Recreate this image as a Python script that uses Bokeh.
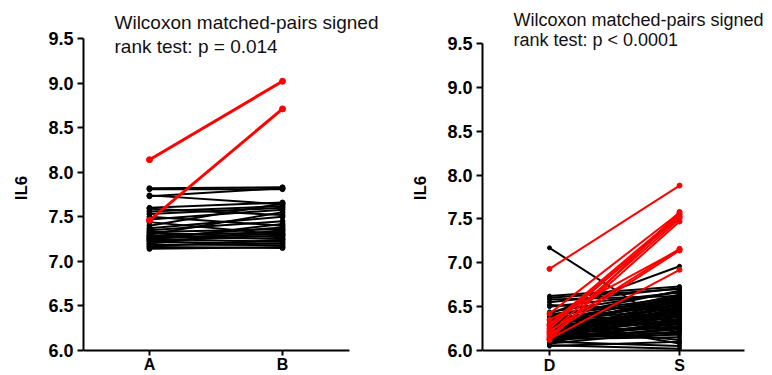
from bokeh.plotting import figure
from bokeh.layouts import row
from bokeh.models import FixedTicker, Label, Range1d
from bokeh.embed import file_html
from bokeh.resources import INLINE

# ---------------- data ----------------
left_categories = ["A", "B"]
right_categories = ["D", "S"]
y_ticks = [6.0, 6.5, 7.0, 7.5, 8.0, 8.5, 9.0, 9.5]
y_tick_labels = ["6.0", "6.5", "7.0", "7.5", "8.0", "8.5", "9.0", "9.5"]

left_title = ["Wilcoxon matched-pairs signed", "rank test: p = 0.014"]
right_title = ["Wilcoxon matched-pairs signed", "rank test: p < 0.0001"]
y_label = "IL6"

left_black_A = [7.82, 7.81, 7.74, 7.73, 7.60, 7.59, 7.56, 7.53, 7.50, 7.47,
                7.44, 7.40, 7.37, 7.35, 7.33, 7.32, 7.30, 7.29, 7.28, 7.27,
                7.26, 7.25, 7.24, 7.23, 7.22, 7.20, 7.19, 7.17, 7.16, 7.14]
left_black_B = [7.83, 7.81, 7.64, 7.82, 7.66, 7.52, 7.62, 7.60, 7.40, 7.58,
                7.30, 7.65, 7.50, 7.45, 7.36, 7.27, 7.55, 7.33, 7.25, 7.38,
                7.31, 7.22, 7.42, 7.29, 7.20, 7.35, 7.18, 7.24, 7.15, 7.16]
left_red_A = [8.14, 7.46]
left_red_B = [9.02, 8.71]

right_black_D = [7.17, 6.62, 6.60, 6.58, 6.55, 6.52, 6.50, 6.42, 6.40, 6.39,
                 6.38, 6.36, 6.35, 6.34, 6.33, 6.32, 6.31, 6.30, 6.29, 6.28,
                 6.27, 6.26, 6.25, 6.24, 6.23, 6.22, 6.21, 6.20, 6.19, 6.18,
                 6.17, 6.16, 6.15, 6.14, 6.13, 6.12, 6.11, 6.10, 6.08, 6.06,
                 6.05, 6.27, 6.33, 6.37, 6.31, 6.29, 6.26, 6.24, 6.21, 6.19,
                 6.17, 6.15, 6.13, 6.11, 6.09, 6.44, 6.41, 6.23, 6.18, 6.14]
right_black_S = [6.22, 6.73, 6.70, 6.62, 6.71, 6.45, 6.66, 6.96, 6.58, 6.35,
                 6.68, 6.52, 6.60, 6.48, 6.40, 6.64, 6.55, 6.30, 6.57, 6.44,
                 6.62, 6.38, 6.50, 6.25, 6.46, 6.56, 6.33, 6.42, 6.20, 6.48,
                 6.36, 6.53, 6.28, 6.40, 6.15, 6.45, 6.32, 6.05, 6.22, 6.02,
                 6.10, 6.12, 6.08, 6.51, 6.43, 6.59, 6.34, 6.47, 6.27, 6.54,
                 6.39, 6.18, 6.49, 6.26, 6.35, 6.67, 6.61, 6.41, 6.30, 6.24]
right_red_D = [6.93, 6.42, 6.30, 6.25, 6.20, 6.15, 6.12, 6.35, 6.22, 6.18, 6.13, 6.28]
right_red_S = [7.88, 7.57, 7.55, 7.53, 7.50, 7.47, 7.58, 7.15, 7.16, 7.14, 6.92, 7.52]

FONT = "Liberation Sans"


def make_panel(cats, black_a, black_b, red_a, red_b, title_lines, width,
               border_left, x_range, y_range, x_bounds, title_x, title_y,
               title_size, lw_black, lw_red, msize):
    p = figure(width=width, height=375, output_backend="svg", toolbar_location=None,
               x_range=Range1d(*x_range), y_range=Range1d(*y_range))
    p.min_border_left = border_left
    p.min_border_right = 0
    p.min_border_top = 0
    p.min_border_bottom = 0
    p.outline_line_color = None
    p.grid.visible = False
    p.background_fill_color = "white"
    p.border_fill_color = "white"

    xpos = list(range(len(cats)))

    # y axis
    ya = p.yaxis[0]
    ya.ticker = FixedTicker(ticks=y_ticks)
    ya.major_label_overrides = {t: s for t, s in zip(y_ticks, y_tick_labels)}
    ya.bounds = (y_ticks[0], y_ticks[-1])
    ya.axis_line_width = 2
    ya.major_tick_line_width = 2
    ya.major_tick_out = 6
    ya.major_tick_in = 0
    ya.minor_tick_line_color = None
    ya.major_label_standoff = 4
    ya.major_label_text_font = FONT
    ya.major_label_text_font_style = "bold"
    ya.major_label_text_font_size = "18px"
    ya.major_label_text_color = "black"
    ya.axis_label = y_label
    ya.axis_label_text_font = FONT
    ya.axis_label_text_font_style = "bold"
    ya.axis_label_text_font_size = "17px"
    ya.axis_label_text_color = "black"
    ya.axis_label_standoff = 14

    # x axis
    xa = p.xaxis[0]
    xa.ticker = FixedTicker(ticks=xpos)
    xa.major_label_overrides = {i: c for i, c in zip(xpos, cats)}
    xa.bounds = x_bounds
    xa.fixed_location = y_ticks[0]
    xa.axis_line_width = 2
    xa.major_tick_line_width = 2
    xa.major_tick_out = 5
    xa.major_tick_in = 0
    xa.minor_tick_line_color = None
    xa.major_label_standoff = 1
    xa.major_label_text_font = FONT
    xa.major_label_text_font_style = "bold"
    xa.major_label_text_font_size = "16px"
    xa.major_label_text_color = "black"

    # paired lines
    xs_b = [xpos for _ in black_a]
    ys_b = [[a, b] for a, b in zip(black_a, black_b)]
    p.multi_line(xs_b, ys_b, line_color="black", line_width=lw_black)
    p.scatter([xpos[0]] * len(black_a), black_a, size=msize, color="black")
    p.scatter([xpos[1]] * len(black_b), black_b, size=msize, color="black")

    xs_r = [xpos for _ in red_a]
    ys_r = [[a, b] for a, b in zip(red_a, red_b)]
    p.multi_line(xs_r, ys_r, line_color="#ff0000", line_width=lw_red)
    p.scatter([xpos[0]] * len(red_a), red_a, size=msize + 1, color="#ff0000")
    p.scatter([xpos[1]] * len(red_b), red_b, size=msize + 1, color="#ff0000")

    for line, ty in zip(title_lines, title_y):
        p.add_layout(Label(x=title_x, y=ty, text=line, text_font=FONT,
                           text_font_size=title_size, text_color="#111111",
                           text_baseline="alphabetic", text_align="left"))
    return p


p1 = make_panel(left_categories, left_black_A, left_black_B, left_red_A, left_red_B,
                left_title, width=400, border_left=83,
                x_range=(-0.496, 1.887), y_range=(5.7195, 9.926),
                x_bounds=(-0.496, 1.504), title_x=-0.263, title_y=[9.68, 9.41],
                title_size="19px", lw_black=2, lw_red=3, msize=5)

p2 = make_panel(right_categories, right_black_D, right_black_S, right_red_D, right_red_S,
                right_title, width=372, border_left=82,
                x_range=(-0.515, 1.715), y_range=(5.715, 9.990),
                x_bounds=(-0.515, 1.5), title_x=-0.277, title_y=[9.77, 9.54],
                title_size="18px", lw_black=2, lw_red=2, msize=4)

layout = row(p1, p2)
open("out.html", "w").write(file_html(layout, INLINE))
